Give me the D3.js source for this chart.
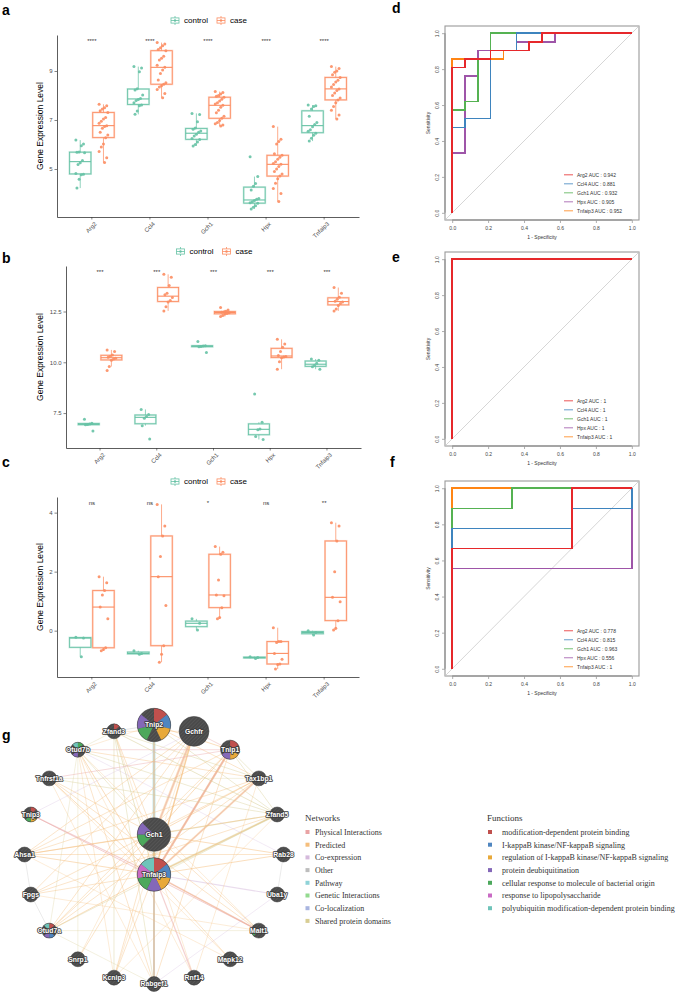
<!DOCTYPE html>
<html><head><meta charset="utf-8">
<script src="https://cdn.jsdelivr.net/npm/d3@7"></script>
<style>body{margin:0;background:#fff}svg{display:block}</style>
</head><body>
<svg id="c" width="685" height="993"></svg>
<script>
// ---------------- DATA ----------------
const genes = ["Arg2","Ccl4","Gch1","Hpx","Tnfaip3"];
const groups = ["control","case"];

const aControl = [
  [6.18,6.02,5.95,5.69,5.68,5.66,5.35,5.25,5.18,4.82,4.79,4.76,4.58,4.22],
  [9.18,9.12,8.97,8.28,8.22,8.02,7.88,7.84,7.80,7.70,7.61,7.58,7.37,7.23],
  [7.27,7.22,6.93,6.67,6.62,6.55,6.50,6.42,6.35,6.24,6.20,6.10,6.00,5.94],
  [5.50,4.69,4.41,4.30,4.14,3.80,3.76,3.71,3.66,3.62,3.60,3.50,3.44,3.37],
  [7.61,7.58,7.55,7.45,7.15,6.90,6.82,6.72,6.60,6.54,6.46,6.38,6.25,6.14]
];
const aCase = [
  [7.64,7.58,7.50,7.45,7.38,7.31,7.10,7.04,6.95,6.87,6.77,6.73,6.66,6.50,6.39,6.28,6.02,5.90,5.71,5.46,5.26],
  [10.16,10.10,10.03,9.95,9.88,9.83,9.60,9.52,9.45,9.24,9.15,9.04,8.90,8.63,8.52,8.46,8.40,8.35,8.25,8.08,7.91],
  [8.16,8.12,8.06,8.00,7.97,7.93,7.85,7.78,7.70,7.65,7.60,7.52,7.40,7.30,7.15,7.07,6.98,6.90,6.85,6.80,6.76],
  [6.73,6.21,6.12,6.02,5.62,5.56,5.48,5.40,5.30,5.22,5.19,5.10,5.00,4.90,4.80,4.71,4.60,4.42,4.20,4.00,3.67],
  [9.18,9.10,9.00,8.95,8.85,8.74,8.62,8.55,8.45,8.35,8.27,8.20,8.10,8.00,7.90,7.82,7.70,7.55,7.40,7.20,7.04]
];
const aSig = ["****","****","****","****","****"];
const aTicks = [5,7,9];

const bControl = [
  [7.19,7.00,6.96,6.94,6.92,6.62],
  [7.68,7.43,7.33,7.25,6.88,6.22],
  [11.02,10.82,10.80,10.78,10.76,10.48],
  [8.44,7.05,6.72,6.68,6.35,6.20],
  [10.16,10.10,9.95,9.86,9.78,9.66]
];
const bCase = [
  [10.61,10.53,10.36,10.30,10.25,10.20,10.16,10.10,9.79,9.59],
  [14.33,14.19,13.78,13.40,13.32,13.19,13.04,12.97,12.74,12.53],
  [12.70,12.58,12.51,12.48,12.46,12.44,12.40,12.38,12.30,12.25],
  [11.13,10.90,10.74,10.53,10.33,10.29,10.26,10.22,10.03,9.66],
  [13.68,13.40,13.20,13.10,13.01,12.97,12.90,12.80,12.62,12.53]
];
const bSig = ["***","***","***","***","***"];
const bTicks = [7.5,10.0,12.5];

const cControl = [
  [-0.22,-0.25,-0.88],
  [-0.68,-0.77,-0.80],
  [0.40,0.25,0.02],
  [-0.88,-0.91,-0.94],
  [0.00,-0.06,-0.15]
];
const cCase = [
  [1.83,1.62,1.36,1.21,0.80,0.40,-0.58,-0.64,-0.68],
  [4.28,3.55,3.21,2.51,1.83,0.85,-0.51,-0.80,-1.07],
  [2.85,2.66,2.59,1.72,1.21,1.18,0.78,0.45,0.40],
  [0.10,-0.37,-0.37,-0.40,-0.77,-0.97,-1.13,-1.15,-1.30],
  [3.66,3.55,3.04,2.00,1.13,0.98,0.34,0.08,0.02]
];
const cSig = ["ns","ns","*","ns","**"];
const cTicks = [0,2,4];

// ROC curves: [fpr list, tpr list]
const rocTicks = [0,0.2,0.4,0.6,0.8,1.0];
const rocD = [
  {gene:"Arg2", auc:"0.942", fpr:[0,0,0.071,0.214,0.429,0.5,1], tpr:[0,0.810,0.857,0.905,0.952,1,1]},
  {gene:"Ccl4", auc:"0.881", fpr:[0,0,0.071,0.214,0.357,1], tpr:[0,0.476,0.524,0.905,1,1]},
  {gene:"Gch1", auc:"0.932", fpr:[0,0,0.071,0.143,0.214,1], tpr:[0,0.571,0.619,0.857,1,1]},
  {gene:"Hpx", auc:"0.905", fpr:[0,0,0.071,0.143,0.357,0.571,1], tpr:[0,0.333,0.762,0.905,0.952,1,1]},
  {gene:"Tnfaip3", auc:"0.952", fpr:[0,0,0.286,0.357,1], tpr:[0,0.857,0.905,1,1]}
];
const rocE = [
  {gene:"Arg2", auc:"1", fpr:[0,0,1], tpr:[0,1,1]},
  {gene:"Ccl4", auc:"1", fpr:[0,0,1], tpr:[0,1,1]},
  {gene:"Gch1", auc:"1", fpr:[0,0,1], tpr:[0,1,1]},
  {gene:"Hpx", auc:"1", fpr:[0,0,1], tpr:[0,1,1]},
  {gene:"Tnfaip3", auc:"1", fpr:[0,0,1], tpr:[0,1,1]}
];
const rocF = [
  {gene:"Arg2", auc:"0.778", fpr:[0,0,0.667,1], tpr:[0,0.667,1,1]},
  {gene:"Ccl4", auc:"0.815", fpr:[0,0,0.667,1], tpr:[0,0.778,0.889,1]},
  {gene:"Gch1", auc:"0.963", fpr:[0,0,0.333,1], tpr:[0,0.889,1,1]},
  {gene:"Hpx", auc:"0.556", fpr:[0,0,1], tpr:[0,0.556,1]},
  {gene:"Tnfaip3", auc:"1", fpr:[0,0,1], tpr:[0,1,1]}
];
const rocColors = ["#E6282B","#3E84BE","#55B252","#9E55A8","#FF8514"];

// Network
const ringNodes = ["Tnip2","Gchfr","Tnip1","Tax1bp1","Zfand5","Rab28","Uba1y","Malt1","Mapk12","Rnf14",
  "Rabgef1","Kcnip3","Snrp1","Otud7a","Fpgs","Ahsa1","Tnip3","Tnfrsf1a","Otud7b","Zfand3"];
const hubNodes = ["Gch1","Tnfaip3"];
const nodeScore = {Tnip2:1.0, Gchfr:0.8, Tnip1:0.33, Gch1:1.0, Tnfaip3:1.0};
const nodePie = {
  Tnip2:[0,1,2,null,4,3,null],
  Tnfaip3:[0,1,2,3,4,5,6],
  Gch1:[null,null,null,null,null,4,3,null],
  Tnip1:[0,null,2,3,null,null],
  Zfand3:[0,null,null,null,null,null,null,null],
  Otud7b:[4,null,null,null,3,null,null,6],
  Tnip3:[0,null,null,2,4,null,null,null],
  Otud7a:[0,null,null,1,3,null,null,6],
  Malt1:[null,null,null,null,null,4,null,null]
};
const netTypes = ["Physical Interactions","Predicted","Co-expression","Other","Pathway","Genetic Interactions","Co-localization","Shared protein domains"];
const netColors = ["#E9A3A4","#F5BE7C","#D5BADC","#BDBDBD","#8FD3D8","#93DA8F","#A9B5E0","#D8CD93"];
const funcNames = ["modification-dependent protein binding","I-kappaB kinase/NF-kappaB signaling",
  "regulation of I-kappaB kinase/NF-kappaB signaling","protein deubiquitination",
  "cellular response to molecule of bacterial origin","response to lipopolysaccharide",
  "polyubiquitin modification-dependent protein binding"];
const funcColors = ["#C0504D","#4F86C0","#E8A93A","#8468B8","#4CA85C","#C96AC4","#6FC4BA"];
// edges: [source, target, typeIndex, weight]
const edges = [
 ["Tnip2","Tnfaip3",4,3],["Tnip2","Tnfaip3",7,1.5],["Tnip2","Tnfaip3",2,1],["Tnip2","Gch1",1,1],
 ["Gchfr","Gch1",1,2.5],["Gchfr","Tnfaip3",1,1.5],["Gchfr","Gch1",0,1],["Gchfr","Tnfaip3",1,1],
 ["Tnip1","Tnfaip3",0,2],["Tnip1","Tnfaip3",1,2],["Tnip1","Gch1",1,1],["Tnip1","Tnfaip3",0,1],
 ["Tax1bp1","Tnfaip3",1,2],["Tax1bp1","Tnfaip3",0,1],["Tax1bp1","Gch1",1,1],
 ["Zfand5","Tnfaip3",7,2],["Zfand5","Gch1",7,1.2],["Zfand5","Tnfaip3",1,1],
 ["Rab28","Tnfaip3",1,1],["Rab28","Gch1",1,1],
 ["Uba1y","Tnfaip3",2,1.2],
 ["Malt1","Tnfaip3",0,1.5],["Malt1","Tnfaip3",1,1],["Malt1","Gch1",1,0.8],
 ["Mapk12","Tnfaip3",1,0.8],
 ["Rnf14","Tnfaip3",0,1.2],
 ["Rabgef1","Tnfaip3",3,1.5],["Rabgef1","Tnfaip3",1,1.2],["Rabgef1","Gch1",4,1],["Rabgef1","Tnfaip3",0,0.8],["Rabgef1","Gch1",1,0.8],
 ["Kcnip3","Tnfaip3",1,0.8],["Kcnip3","Gch1",1,0.8],
 ["Snrp1","Gch1",1,0.8],
 ["Otud7a","Tnfaip3",1,1],["Otud7a","Gch1",1,0.8],
 ["Fpgs","Tnfaip3",1,0.8],
 ["Ahsa1","Gch1",1,1.2],["Ahsa1","Tnfaip3",1,1],
 ["Tnip3","Tnfaip3",0,1.2],
 ["Tnfrsf1a","Tnfaip3",1,1],["Tnfrsf1a","Gch1",1,0.8],
 ["Otud7b","Tnfaip3",1,1],["Otud7b","Gch1",7,0.8],
 ["Zfand3","Tnfaip3",7,1],["Zfand3","Gch1",1,0.8],
 ["Gch1","Tnfaip3",1,1],
 ["Tnip2","Tnip1",1,1],["Tnip2","Zfand3",3,0.8],["Tnip2","Tax1bp1",1,0.8],["Tnip2","Zfand5",7,0.8],["Gchfr","Tnip1",0,0.8],
 ["Tnip1","Tnfrsf1a",0,0.8],["Tnip1","Otud7b",0,0.8],["Tnip1","Otud7a",1,0.8],["Tnip1","Ahsa1",1,0.8],["Tnip1","Zfand5",7,0.8],["Tnip1","Tax1bp1",7,0.8],["Tnip1","Rabgef1",1,0.8],
 ["Tax1bp1","Otud7b",1,0.8],["Tax1bp1","Ahsa1",1,0.8],["Tax1bp1","Fpgs",1,0.8],["Tax1bp1","Otud7a",1,0.8],["Tax1bp1","Zfand3",7,0.8],["Tax1bp1","Rnf14",1,0.6],
 ["Zfand5","Zfand3",7,1],["Zfand5","Tnfrsf1a",7,0.8],["Zfand5","Otud7b",7,0.8],["Zfand5","Ahsa1",1,0.8],["Zfand5","Fpgs",1,0.8],["Zfand5","Otud7a",7,0.8],["Zfand5","Kcnip3",1,0.6],
 ["Rab28","Ahsa1",1,0.8],["Rab28","Otud7b",2,0.6],["Rab28","Uba1y",3,0.6],
 ["Uba1y","Rabgef1",2,0.6],
 ["Malt1","Tnfrsf1a",1,0.8],["Malt1","Tnip3",0,1],["Malt1","Fpgs",1,0.6],["Malt1","Otud7b",1,0.6],["Malt1","Otud7a",7,0.6],
 ["Mapk12","Tnfrsf1a",1,0.6],["Mapk12","Ahsa1",1,0.6],
 ["Rnf14","Otud7b",1,0.6],["Rnf14","Zfand3",1,0.6],
 ["Rabgef1","Zfand3",7,0.8],["Rabgef1","Otud7b",1,0.8],["Rabgef1","Tnfrsf1a",1,0.6],
 ["Kcnip3","Zfand3",7,0.8],["Kcnip3","Otud7b",1,0.6],["Kcnip3","Gchfr",1,0.6],
 ["Snrp1","Gchfr",1,0.6],["Snrp1","Otud7b",7,0.6],
 ["Otud7a","Gchfr",1,0.8],["Otud7a","Fpgs",3,0.6],["Otud7a","Otud7b",7,0.6],["Otud7a","Rabgef1",7,0.6],
 ["Fpgs","Gchfr",1,0.8],["Fpgs","Ahsa1",3,0.6],
 ["Ahsa1","Gchfr",1,0.8],
 ["Tnip3","Gchfr",2,0.6],
 ["Tnfrsf1a","Tax1bp1",7,0.6],
 ["Otud7b","Zfand3",7,0.6],["Otud7b","Tnip2",1,0.6],
 ["Zfand3","Gchfr",1,0.6]
];

// ---------------- DRAW ----------------
const svg = d3.select("#c");
const SANS = "'Liberation Sans', Arial, sans-serif";
const SERIF = "'Liberation Serif', 'Times New Roman', serif";
const GCOL = {control:"#66C2A5", case:"#FC8D62"};

const defs = svg.append("defs");
const pat = defs.append("pattern").attr("id","hatch").attr("patternUnits","userSpaceOnUse")
  .attr("width",2.6).attr("height",2.6).attr("patternTransform","rotate(45)");
pat.append("rect").attr("width",2.6).attr("height",2.6).attr("fill","#4a4a4a");
pat.append("line").attr("x1",0).attr("y1",0).attr("x2",0).attr("y2",2.6).attr("stroke","#5e5e5e").attr("stroke-width",1);

function panelLabel(t,x,y){
  svg.append("text").attr("x",x).attr("y",y).text(t)
    .attr("font-family",SANS).attr("font-weight","bold").attr("font-size",14).attr("fill","#000");
}

function boxPanel(p){
  const g = svg.append("g");
  const x = d3.scaleBand().domain(genes).range([p.left,p.right]).paddingInner(0).paddingOuter(0.1);
  const step = x.step();
  const xs = d3.scaleBand().domain(groups).range([-0.4*step,0.4*step]);
  const y = d3.scaleLinear().domain(p.domain).range([p.bottom,p.top]);
  const bw = 0.37*step;

  genes.forEach((gene,i)=>{
    groups.forEach(grp=>{
      const vals = (grp==="control"?p.control:p.case)[i];
      const s = vals.slice().sort(d3.ascending);
      const q1 = d3.quantile(s,0.25), med = d3.quantile(s,0.5), q3 = d3.quantile(s,0.75);
      const iqr = q3-q1;
      const lo = d3.min(s.filter(v=>v>=q1-1.5*iqr));
      const hi = d3.max(s.filter(v=>v<=q3+1.5*iqr));
      const cx = x(gene)+step/2+xs(grp)+xs.bandwidth()/2;
      const col = GCOL[grp];
      const bg = g.append("g");
      bg.append("line").attr("x1",cx).attr("x2",cx).attr("y1",y(hi)).attr("y2",y(q3))
        .attr("stroke",col).attr("stroke-width",0.9).attr("stroke-opacity",0.8);
      bg.append("line").attr("x1",cx).attr("x2",cx).attr("y1",y(q1)).attr("y2",y(lo))
        .attr("stroke",col).attr("stroke-width",0.9).attr("stroke-opacity",0.8);
      bg.append("rect").attr("x",cx-bw/2).attr("y",y(q3)).attr("width",bw).attr("height",Math.max(0.5,y(q1)-y(q3)))
        .attr("fill","none").attr("stroke",col).attr("stroke-width",2).attr("stroke-opacity",0.35);
      bg.append("rect").attr("x",cx-bw/2).attr("y",y(q3)).attr("width",bw).attr("height",Math.max(0.5,y(q1)-y(q3)))
        .attr("fill","none").attr("stroke",col).attr("stroke-width",0.8);
      bg.append("line").attr("x1",cx-bw/2).attr("x2",cx+bw/2).attr("y1",y(med)).attr("y2",y(med))
        .attr("stroke",col).attr("stroke-width",1.1);
      g.selectAll(null).data(vals).enter().append("circle")
        .attr("cx",(v,k)=>cx+(((k*7)%9)-4)/4*0.075*step)
        .attr("cy",v=>y(v)).attr("r",1.5).attr("fill",col).attr("fill-opacity",0.9);
    });
    g.append("text").attr("x",x(gene)+step/2).attr("y",p.top+8).text(p.sig[i])
      .attr("text-anchor","middle").attr("font-family",SANS).attr("font-size",6).attr("fill","#333");
  });

  const ya = g.append("g").attr("transform",`translate(${p.left},0)`)
    .call(d3.axisLeft(y).tickValues(p.ticks).tickSize(2.5).tickSizeOuter(0).tickPadding(2).tickFormat(p.fmt));
  ya.select(".domain").attr("stroke","#333").attr("stroke-width",0.8);
  ya.selectAll(".tick line").attr("stroke","#333").attr("stroke-width",0.6);
  ya.selectAll("text").attr("font-size",6).attr("font-family",SANS).attr("fill","#4d4d4d");
  const xa = g.append("g").attr("transform",`translate(0,${p.bottom})`)
    .call(d3.axisBottom(x).tickSize(2.5).tickSizeOuter(0));
  xa.select(".domain").attr("stroke","#333").attr("stroke-width",0.8);
  xa.selectAll(".tick line").attr("stroke","#333").attr("stroke-width",0.6);
  xa.selectAll("text").attr("y",null).attr("dy",null)
    .attr("transform","translate(3,5) rotate(-45)").attr("text-anchor","end").attr("dy","0.55em")
    .attr("font-size",6).attr("font-family",SANS).attr("fill","#4d4d4d");

  g.append("text").attr("transform",`translate(${p.titleX},${(p.top+p.bottom)/2}) rotate(-90)`)
    .attr("text-anchor","middle").text("Gene Expression Level")
    .attr("font-family",SANS).attr("font-size",8.5).attr("fill","#000");

  const cx0 = (p.left+p.right)/2;
  const legX = [cx0-33, cx0+13];
  groups.forEach((grp,k)=>{
    const lg = g.append("g").attr("transform",`translate(${legX[k]},${p.legendY})`);
    const col = GCOL[grp];
    lg.append("line").attr("x1",0).attr("x2",0).attr("y1",-4.5).attr("y2",4.5).attr("stroke",col).attr("stroke-width",0.8);
    lg.append("rect").attr("x",-4).attr("y",-2.6).attr("width",8).attr("height",5.2).attr("fill","#fff").attr("stroke",col).attr("stroke-width",0.8);
    lg.append("line").attr("x1",-4).attr("x2",4).attr("y1",0).attr("y2",0).attr("stroke",col).attr("stroke-width",0.8);
    lg.append("circle").attr("cx",0).attr("cy",0).attr("r",1.2).attr("fill",col);
    lg.append("text").attr("x",9).attr("y",0).attr("dy","0.35em").text(grp)
      .attr("font-family",SANS).attr("font-size",8).attr("fill","#000");
  });
}

boxPanel({left:57,right:359,top:35,bottom:217,domain:[3.04,10.47],ticks:aTicks,fmt:d3.format("d"),
  control:aControl,case:aCase,sig:aSig,titleX:43,legendY:20.5});
boxPanel({left:66,right:361,top:266,bottom:448,domain:[5.78,14.74],ticks:bTicks,fmt:d3.format(".1f"),
  control:bControl,case:bCase,sig:bSig,titleX:43,legendY:251.5});
boxPanel({left:57,right:359,top:497,bottom:677,domain:[-1.57,4.53],ticks:cTicks,fmt:d3.format("d"),
  control:cControl,case:cCase,sig:cSig,titleX:43,legendY:481.5});

function rocPanel(p){
  const g = svg.append("g");
  const x = d3.scaleLinear().domain([-0.04,1.04]).range([445,639]);
  const y = d3.scaleLinear().domain([-0.04,1.04]).range([p.bottom,p.top]);
  g.append("rect").attr("x",445).attr("y",p.top).attr("width",194).attr("height",p.bottom-p.top)
    .attr("fill","none").attr("stroke","#9a9a9a").attr("stroke-width",1.1);
  g.append("line").attr("x1",x(-0.04)).attr("y1",y(-0.04)).attr("x2",x(1.04)).attr("y2",y(1.04))
    .attr("stroke","#c4c4c4").attr("stroke-width",0.7);
  const ya = g.append("g").attr("transform","translate(445,0)")
    .call(d3.axisLeft(y).tickValues(rocTicks).tickSize(3).tickSizeOuter(0).tickFormat(d3.format(".1f")));
  ya.select(".domain").attr("d",`M0,${y(0)}V${y(1)}`).attr("stroke","#9a9a9a").attr("stroke-width",1.4);
  ya.selectAll(".tick line").attr("stroke","#9a9a9a").attr("stroke-width",0.8);
  ya.selectAll("text").attr("x",null).attr("dy",null).attr("transform","translate(-6,0) rotate(-90)")
    .attr("text-anchor","middle").attr("font-size",5).attr("font-family",SANS).attr("fill","#444");
  const xa = g.append("g").attr("transform",`translate(0,${p.bottom})`)
    .call(d3.axisBottom(x).tickValues(rocTicks).tickSize(3).tickSizeOuter(0).tickFormat(d3.format(".1f")));
  xa.select(".domain").attr("d",`M${x(0)},0H${x(1)}`).attr("stroke","#9a9a9a").attr("stroke-width",1.4);
  xa.selectAll(".tick line").attr("stroke","#9a9a9a").attr("stroke-width",0.8);
  xa.selectAll("text").attr("y",6).attr("dy","0.71em").attr("font-size",5).attr("font-family",SANS).attr("fill","#444");
  g.append("text").attr("transform",`translate(430,${(y(0)+y(1))/2}) rotate(-90)`).attr("text-anchor","middle")
    .text("Sensitivity").attr("font-size",5).attr("font-family",SANS).attr("fill","#333");
  g.append("text").attr("x",(x(0)+x(1))/2).attr("y",p.bottom+19).attr("text-anchor","middle")
    .text("1 - Specificity").attr("font-size",5).attr("font-family",SANS).attr("fill","#333");

  const line = d3.line().x(d=>x(d[0])).y(d=>y(d[1])).curve(d3.curveStepAfter);
  p.curves.slice().reverse().forEach((c)=>{
    const idx = p.curves.indexOf(c);
    const pts = c.fpr.map((f,k)=>[f,c.tpr[k]]);
    g.append("path").attr("d",line(pts)).attr("fill","none").attr("stroke",rocColors[idx])
      .attr("stroke-width",1.5).attr("shape-rendering","crispEdges");
  });
  p.curves.forEach((c,i)=>{
    const ly = y(0)-38+9*i;
    g.append("line").attr("x1",564).attr("x2",573).attr("y1",ly).attr("y2",ly)
      .attr("stroke",rocColors[i]).attr("stroke-width",1).attr("stroke-opacity",0.8);
    g.append("text").attr("x",577).attr("y",ly).attr("dy","0.35em").text(`${c.gene} AUC : ${c.auc}`)
      .attr("font-size",5).attr("font-family",SANS).attr("fill","#333");
  });
}
rocPanel({top:26,bottom:220,curves:rocD});
rocPanel({top:252,bottom:446,curves:rocE});
rocPanel({top:481,bottom:676,curves:rocF});

panelLabel("a",2,15); panelLabel("b",2,263); panelLabel("c",2,467);
panelLabel("d",392,13); panelLabel("e",392,262); panelLabel("f",390,467); panelLabel("g",2,740);

// ---------------- NETWORK ----------------
const ng = svg.append("g");
const ringAngle = d3.scaleLinear().domain([0,ringNodes.length]).range([0,2*Math.PI]);
const cen = {x:154, y:854.5}, R = 129.5;
const rScale = d3.scaleSqrt().domain([0,1]).range([0,16.7]);
const pos = {};
ringNodes.forEach((n,i)=>{
  const a = ringAngle(i);
  pos[n] = {x:cen.x+R*Math.sin(a), y:cen.y-R*Math.cos(a)};
});
hubNodes.forEach((n,i)=>{ pos[n] = {x:cen.x, y:cen.y+(i===0?-20:20)}; });

ng.append("g").selectAll("line").data(edges).enter().append("line")
  .attr("x1",d=>pos[d[0]].x).attr("y1",d=>pos[d[0]].y)
  .attr("x2",d=>pos[d[1]].x).attr("y2",d=>pos[d[1]].y)
  .attr("stroke",d=>netColors[d[2]]).attr("stroke-width",d=>d[3]).attr("stroke-opacity",0.5);

const allNodes = ringNodes.concat(hubNodes);
const arc = d3.arc().innerRadius(0);
allNodes.forEach(n=>{
  const r = rScale(nodeScore[n]||0.2);
  const ngp = ng.append("g").attr("transform",`translate(${pos[n].x},${pos[n].y})`);
  ngp.append("circle").attr("r",r).attr("fill","url(#hatch)");
  const pie = nodePie[n];
  if(pie){
    const slices = d3.pie().value(1).sort(null)(pie);
    ngp.selectAll(null).data(slices.filter(s=>s.data!==null)).enter().append("path")
      .attr("d",s=>arc.outerRadius(r)(s)).attr("fill",s=>funcColors[s.data]);
  }
  ngp.append("circle").attr("r",r).attr("fill","none").attr("stroke","#3a3a3a").attr("stroke-width",0.5);
  ngp.append("text").text(n).attr("text-anchor","middle").attr("dy","0.35em")
    .attr("font-family",SANS).attr("font-size",6.8).attr("font-weight","bold")
    .attr("fill","#ffffff").attr("stroke","#3a3a3a").attr("stroke-width",1.6)
    .style("paint-order","stroke").attr("stroke-linejoin","round");
});

const lg1 = svg.append("g").attr("font-family",SERIF);
lg1.append("text").attr("x",305).attr("y",821).text("Networks").attr("font-size",9).attr("fill","#333");
netTypes.forEach((t,i)=>{
  const yy = 832+12.7*i;
  lg1.append("rect").attr("x",305.5).attr("y",yy-2).attr("width",4).attr("height",4).attr("fill",netColors[i]);
  lg1.append("text").attr("x",315).attr("y",yy).attr("dy","0.35em").text(t).attr("font-size",8).attr("fill","#333");
});
const lg2 = svg.append("g").attr("font-family",SERIF);
lg2.append("text").attr("x",487).attr("y",821).text("Functions").attr("font-size",9).attr("fill","#333");
funcNames.forEach((t,i)=>{
  const yy = 832+12.7*i;
  lg2.append("rect").attr("x",488).attr("y",yy-2).attr("width",4).attr("height",4).attr("fill",funcColors[i]);
  lg2.append("text").attr("x",502).attr("y",yy).attr("dy","0.35em").text(t).attr("font-size",8).attr("fill","#333");
});
</script>
</body></html>
